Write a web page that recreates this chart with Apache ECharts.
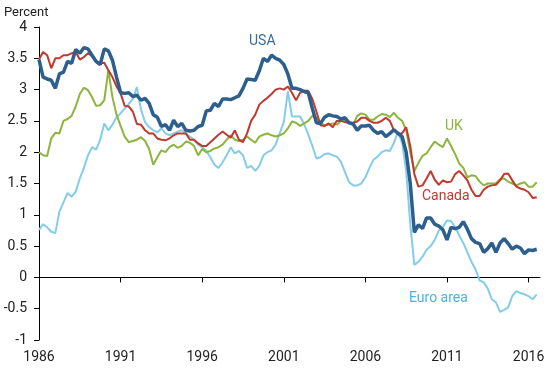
<!DOCTYPE html>
<html>
<head>
<meta charset="utf-8">
<script src="https://cdn.jsdelivr.net/npm/echarts@6/dist/echarts.min.js"></script>
<style>
html,body{margin:0;padding:0;background:#fff;}
#chart{width:551px;height:369px;}
</style>
</head>
<body>
<div id="chart"></div>
<script>
// Quarterly data, 1986Q1 .. 2016Q3
const startYear = 1986;
const xTicks = [1986, 1991, 1996, 2001, 2006, 2011, 2016];
const yTicks = [-1, -0.5, 0, 0.5, 1, 1.5, 2, 2.5, 3, 3.5, 4];

const usa = [
  3.48, 3.2, 3.17, 3.15, 3.02, 3.25, 3.28, 3.45, 3.42, 3.64, 3.58, 3.67, 3.65, 3.55, 3.45, 3.4, 3.65, 3.62, 3.47, 3.2,
  2.95, 2.94, 2.95, 2.89, 2.91, 2.83, 2.86, 2.78, 2.6, 2.56, 2.41, 2.44, 2.35, 2.51, 2.41, 2.46, 2.35, 2.34, 2.35, 2.41,
  2.43, 2.66, 2.67, 2.78, 2.73, 2.85, 2.85, 2.84, 2.87, 2.9, 3.02, 3.17, 3.16, 3.15, 3.3, 3.5, 3.45, 3.55, 3.5, 3.47,
  3.4, 3.25, 3.02, 3.02, 3.0, 2.97, 2.95, 2.7, 2.47, 2.46, 2.56, 2.6, 2.58, 2.57, 2.53, 2.55, 2.47, 2.45, 2.35, 2.42,
  2.42, 2.43, 2.35, 2.3, 2.33, 2.25, 2.3, 2.36, 2.3, 2.25, 2.0, 1.5, 0.72, 0.84, 0.78, 0.95, 0.95, 0.85, 0.82, 0.76,
  0.6, 0.8, 0.78, 0.8, 0.89, 0.77, 0.62, 0.56, 0.54, 0.4, 0.46, 0.55, 0.4, 0.55, 0.62, 0.54, 0.45, 0.5, 0.47, 0.38, 0.44, 0.43, 0.45
];
const canada = [
  3.48, 3.6, 3.55, 3.34, 3.5, 3.5, 3.55, 3.55, 3.58, 3.6, 3.48, 3.52, 3.58, 3.54, 3.45, 3.42, 3.43, 3.31, 3.2, 3.05,
  2.94, 2.74, 2.73, 2.65, 2.45, 2.44, 2.35, 2.3, 2.3, 2.22, 2.2, 2.19, 2.22, 2.27, 2.3, 2.3, 2.3, 2.2, 2.2, 2.14,
  2.1, 2.1, 2.16, 2.22, 2.28, 2.33, 2.28, 2.23, 2.35, 2.2, 2.16, 2.3, 2.5, 2.6, 2.76, 2.82, 2.87, 2.93, 3.0, 3.02,
  3.0, 3.05, 2.95, 2.83, 2.95, 2.98, 2.98, 2.85, 2.65, 2.43, 2.42, 2.46, 2.4, 2.5, 2.5, 2.48, 2.47, 2.47, 2.49, 2.55,
  2.55, 2.5, 2.47, 2.47, 2.5, 2.55, 2.5, 2.35, 2.3, 2.3, 2.4, 2.1, 1.65, 1.45, 1.47, 1.58, 1.7, 1.56, 1.48, 1.55,
  1.52, 1.53, 1.65, 1.7, 1.63, 1.55, 1.4, 1.3, 1.3, 1.4, 1.45, 1.47, 1.48, 1.55, 1.65, 1.66, 1.55, 1.45, 1.42, 1.4, 1.36, 1.27, 1.28
];
const uk = [
  2.0, 1.95, 1.94, 2.22, 2.31, 2.3, 2.5, 2.53, 2.58, 2.73, 2.93, 3.03, 2.99, 2.88, 2.74, 2.75, 2.83, 3.31, 2.88, 2.6,
  2.42, 2.25, 2.16, 2.18, 2.2, 2.24, 2.18, 2.05, 1.8, 1.92, 2.03, 2.0, 2.08, 2.12, 2.07, 2.1, 2.17, 2.15, 2.1, 1.95,
  2.05, 2.0, 2.02, 2.06, 2.08, 2.12, 2.2, 2.27, 2.2, 2.18, 2.2, 2.25, 2.2, 2.15, 2.25, 2.28, 2.3, 2.27, 2.25, 2.27,
  2.3, 2.38, 2.49, 2.47, 2.42, 2.46, 2.5, 2.58, 2.55, 2.47, 2.43, 2.44, 2.46, 2.44, 2.5, 2.5, 2.47, 2.44, 2.58, 2.62,
  2.6, 2.52, 2.52, 2.57, 2.61, 2.6, 2.56, 2.63, 2.55, 2.5, 2.35, 2.0, 1.7, 1.83, 1.94, 1.98, 2.08, 2.17, 2.12, 2.08,
  2.22, 2.1, 1.97, 1.82, 1.75, 1.6, 1.63, 1.62, 1.53, 1.47, 1.5, 1.5, 1.5, 1.57, 1.58, 1.53, 1.5, 1.47, 1.5, 1.52, 1.45, 1.45, 1.52
];
const euro = [
  0.76, 0.85, 0.8, 0.73, 0.71, 1.05, 1.2, 1.35, 1.29, 1.37, 1.58, 1.75, 1.95, 2.08, 2.04, 2.2, 2.46, 2.35, 2.44, 2.56,
  2.62, 2.7, 2.77, 2.85, 3.04, 2.68, 2.48, 2.4, 2.35, 2.32, 2.38, 2.3, 2.27, 2.3, 2.33, 2.35, 2.3, 2.25, 2.2, 2.12,
  2.08, 2.02, 1.92, 1.8, 1.75, 1.84, 1.95, 2.08, 1.98, 2.02, 1.95, 1.75, 1.78, 1.7, 1.78, 1.95, 2.0, 2.03, 2.12, 2.3,
  2.48, 2.97, 2.57, 2.57, 2.57, 2.45, 2.28, 2.1, 1.9, 1.92, 1.97, 1.98, 1.95, 1.93, 1.85, 1.68, 1.52, 1.47, 1.47, 1.5,
  1.6, 1.75, 1.88, 1.93, 2.0, 2.03, 2.02, 2.15, 2.33, 2.15, 1.7, 0.85, 0.2, 0.25, 0.33, 0.44, 0.5, 0.6, 0.75, 0.8,
  0.91, 0.9, 0.8, 0.67, 0.55, 0.4, 0.25, 0.13, -0.05, -0.08, -0.18, -0.35, -0.4, -0.55, -0.52, -0.48, -0.3, -0.22, -0.25, -0.27, -0.3, -0.35, -0.27
];

const pairs = arr => arr.map((v, i) => [startYear + i / 4, v]);

const FONT = 'Roboto';
const chart = echarts.init(document.getElementById('chart'), null, {renderer: 'canvas'});
chart.setOption({
  animation: false,
  backgroundColor: '#ffffff',
  grid: {left: 39, right: 11, top: 27, bottom: 29, containLabel: false},
  xAxis: {
    type: 'value', min: 1986, max: 2016.7,
    axisLine: {show: true, lineStyle: {color: '#000', width: 1}},
    axisTick: {show: true, length: 5, customValues: xTicks, lineStyle: {color: '#000'}},
    axisLabel: {customValues: xTicks, color: '#222', fontFamily: FONT, fontSize: 14, margin: 10,
      formatter: v => String(Math.round(v))},
    splitLine: {show: false}
  },
  yAxis: {
    type: 'value', min: -1, max: 4,
    axisLine: {show: true, lineStyle: {color: '#000', width: 1}},
    axisTick: {show: true, length: 5, customValues: yTicks, lineStyle: {color: '#000'}},
    axisLabel: {customValues: yTicks, color: '#222', fontFamily: FONT, fontSize: 14, margin: 12},
    splitLine: {show: false}
  },
  series: [
    {name: 'Euro area', type: 'line', data: pairs(euro), showSymbol: false, symbol: 'none',
      lineStyle: {color: '#84cdea', width: 2}, z: 2},
    {name: 'UK', type: 'line', data: pairs(uk), showSymbol: false, symbol: 'none',
      lineStyle: {color: '#8db43c', width: 2}, z: 3},
    {name: 'Canada', type: 'line', data: pairs(canada), showSymbol: false, symbol: 'none',
      lineStyle: {color: '#c0392f', width: 2}, z: 4},
    {name: 'USA', type: 'line', data: pairs(usa), showSymbol: false, symbol: 'none',
      lineStyle: {color: '#2c5e8e', width: 3.5}, z: 5}
  ],
  graphic: [
    {type: 'text', x: 4, y: 13, style: {text: 'Percent', fill: '#222', font: '13px Roboto', verticalAlign: 'middle'}},
    {type: 'text', x: 249, y: 41, style: {text: 'USA', fill: '#3a6b9a', font: '14px Roboto', verticalAlign: 'middle'}},
    {type: 'text', x: 445, y: 126, style: {text: 'UK', fill: '#8db43c', font: '14px Roboto', verticalAlign: 'middle'}},
    {type: 'text', x: 422, y: 196, style: {text: 'Canada', fill: '#c0392f', font: '14px Roboto', verticalAlign: 'middle'}},
    {type: 'text', x: 409, y: 298, style: {text: 'Euro area', fill: '#4ab3df', font: '14px Roboto', verticalAlign: 'middle'}}
  ]
});
</script>
</body>
</html>
